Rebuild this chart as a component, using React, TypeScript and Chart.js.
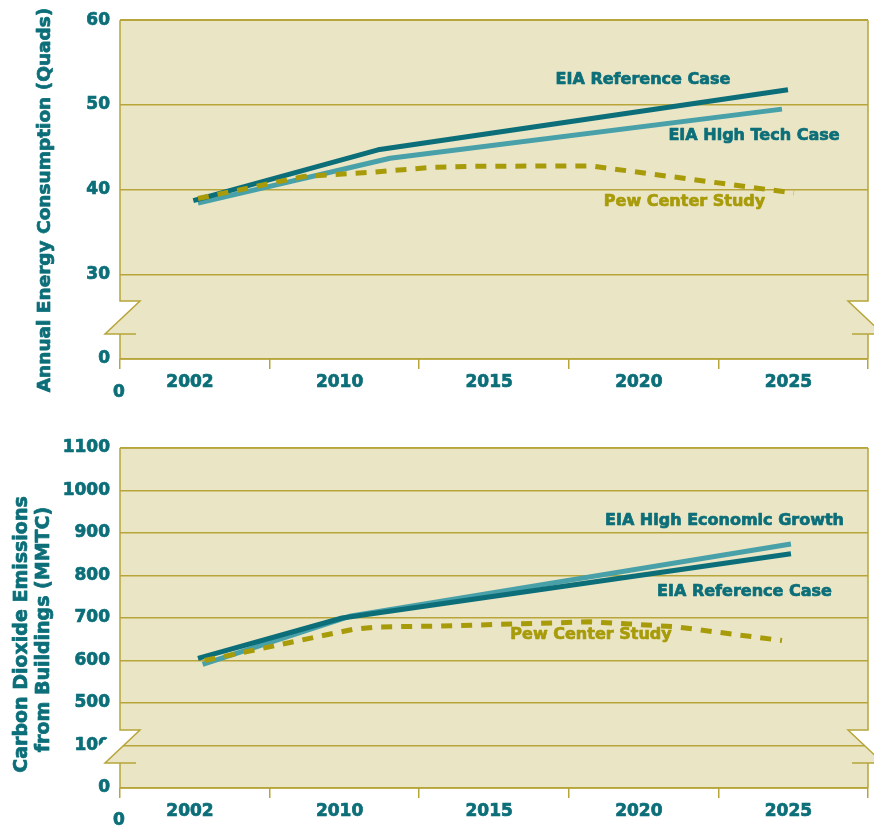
import React, { useEffect, useRef } from 'react';
import { Chart, registerables } from 'chart.js';

Chart.register(...registerables);

// ---------- style constants ----------
const FONT = "'DejaVu Sans', 'Liberation Sans', sans-serif";
const TEAL = '#0b6e78';
const LIGHT_TEAL = '#48a0a9';
const OLIVE = '#a89b0a';
const GRID = '#b7a53a';
const PLOT_BG = '#eae5c5';
const TEXT_STROKE = 0.7;

// ---------- shared x axis ----------
const xTickYears = [2002, 2010, 2015, 2020, 2025];

// ---------- panel 1: Annual Energy Consumption (Quads) ----------
const energyYMin = 20; // broken-axis slot that is labelled "0"
const energyYMax = 60;
const energyYStep = 10;
const energyBrokenLabels: Record<number, string> = { 20: '0' };
const energyRefYears = [2002.2, 2011.3, 2025.0];
const energyRefValues = [38.7, 44.7, 51.8];
const energyHighTechYears = [2002.45, 2011.7, 2024.8];
const energyHighTechValues = [38.4, 43.7, 49.5];
const energyPewYears = [2002.45, 2008.1, 2011.1, 2013.2, 2014.5, 2018.4, 2025.2];
const energyPewValues = [38.95, 41.55, 42.05, 42.65, 42.75, 42.8, 39.6];

// ---------- panel 2: Carbon Dioxide Emissions from Buildings (MMTC) ----------
const co2YMin = 300; // broken-axis slot that is labelled "0"
const co2YMax = 1100;
const co2YStep = 100;
const co2BrokenLabels: Record<number, string> = { 400: '100', 300: '0' };
const co2RefYears = [2002.45, 2010.1, 2025.1];
const co2RefValues = [605, 700, 851];
const co2HighGrowthYears = [2002.7, 2010.4, 2025.1];
const co2HighGrowthValues = [591, 705, 874];
const co2PewYears = [2002.8, 2010.5, 2011.3, 2013.4, 2018.4, 2019.7, 2021.3, 2022.6, 2024.8];
const co2PewValues = [600, 674, 679, 681, 691, 686, 679, 667, 647];

// year -> position on the slot axis (labels sit near the middle of each slot)
const SLOT_CENTER = 0.465;
function yearToPos(year: number): number {
  const ys = xTickYears;
  let i = 0;
  if (year >= ys[ys.length - 1]) i = ys.length - 2;
  else if (year > ys[0]) {
    while (year > ys[i + 1]) i++;
  }
  const t = (year - ys[i]) / (ys[i + 1] - ys[i]);
  return i + SLOT_CENTER + t;
}

function series(years: number[], values: number[]) {
  return years.map((y, i) => ({ x: yearToPos(y), y: values[i] }));
}

type TextItem = { text: string; x: number; y: number; color: string; size: number };
type TitleLine = { text: string; x: number; y: number; size: number };

function heavyText(ctx: CanvasRenderingContext2D, text: string, x: number, y: number, color: string) {
  ctx.fillStyle = color;
  ctx.strokeStyle = color;
  ctx.lineWidth = TEXT_STROKE;
  ctx.lineJoin = 'round';
  ctx.strokeText(text, x, y);
  ctx.fillText(text, x, y);
}

function framePlugin(titleLines: TitleLine[], labels: TextItem[], originDy: number) {
  return {
    id: 'frameAndBreaks',
    beforeDraw(chart: any) {
      const { ctx, chartArea: a } = chart;
      ctx.save();
      ctx.fillStyle = PLOT_BG;
      ctx.fillRect(a.left, a.top, a.right - a.left, a.bottom - a.top);
      ctx.restore();
    },
    afterDraw(chart: any) {
      const ctx = chart.ctx as CanvasRenderingContext2D;
      const { left: L, right: R, top: T, bottom: B } = chart.chartArea;
      const yt = B - 58;
      const yb = B - 25;
      const h = yb - yt;
      const dTop = 20;
      const dBot = 15;
      const band = 24;
      ctx.save();
      // white cut bands
      ctx.fillStyle = '#ffffff';
      ctx.beginPath();
      ctx.moveTo(L - 4, yt);
      ctx.lineTo(L + dTop, yt);
      ctx.lineTo(L - dBot, yb);
      ctx.lineTo(L - dBot - band, yb);
      ctx.closePath();
      ctx.fill();
      ctx.beginPath();
      ctx.moveTo(R + 4, yt);
      ctx.lineTo(R - dTop, yt);
      ctx.lineTo(R + dBot, yb);
      ctx.lineTo(R + dBot + band, yb);
      ctx.closePath();
      ctx.fill();
      // khaki fill beyond axis on the shifted side of the cut
      const yCross = yt + (h * dTop) / (dTop + dBot);
      ctx.fillStyle = PLOT_BG;
      ctx.beginPath();
      ctx.moveTo(L + 1, yCross);
      ctx.lineTo(L - dBot, yb);
      ctx.lineTo(L + 1, yb);
      ctx.closePath();
      ctx.fill();
      ctx.beginPath();
      ctx.moveTo(R - 1, yCross);
      ctx.lineTo(R + dBot, yb);
      ctx.lineTo(R - 1, yb);
      ctx.closePath();
      ctx.fill();
      // frame and break strokes
      ctx.strokeStyle = GRID;
      ctx.lineWidth = 1.5;
      ctx.beginPath();
      ctx.moveTo(L, T);
      ctx.lineTo(R, T);
      ctx.moveTo(L, B);
      ctx.lineTo(R, B);
      ctx.moveTo(L, T);
      ctx.lineTo(L, yt);
      ctx.lineTo(L + dTop, yt);
      ctx.lineTo(L - dBot, yb);
      ctx.lineTo(L + dTop - 4, yb);
      ctx.moveTo(L, yb);
      ctx.lineTo(L, B);
      ctx.moveTo(R, T);
      ctx.lineTo(R, yt);
      ctx.lineTo(R - dTop, yt);
      ctx.lineTo(R + dBot, yb);
      ctx.lineTo(R - dTop + 4, yb);
      ctx.moveTo(R, yb);
      ctx.lineTo(R, B);
      ctx.stroke();

      // origin "0" under the axis corner
      ctx.font = `bold 17px ${FONT}`;
      ctx.textAlign = 'center';
      ctx.textBaseline = 'middle';
      heavyText(ctx, '0', L - 1, B + originDy + 1, TEAL);

      // rotated axis title
      for (const t of titleLines) {
        ctx.save();
        ctx.translate(t.x, t.y);
        ctx.rotate(-Math.PI / 2);
        ctx.font = `bold ${t.size}px ${FONT}`;
        ctx.textAlign = 'center';
        ctx.textBaseline = 'alphabetic';
        heavyText(ctx, t.text, 0, 0, TEAL);
        ctx.restore();
      }

      // series labels
      for (const lb of labels) {
        ctx.font = `bold ${lb.size}px ${FONT}`;
        ctx.textAlign = 'center';
        ctx.textBaseline = 'middle';
        heavyText(ctx, lb.text, lb.x, lb.y, lb.color);
      }
      ctx.restore();
    },
  };
}

function lineDs(data: any[], color: string, dashed = false) {
  return {
    data,
    borderColor: color,
    backgroundColor: color,
    borderWidth: 5,
    pointRadius: 0,
    pointHoverRadius: 0,
    fill: false,
    tension: 0,
    borderCapStyle: 'butt',
    borderJoinStyle: 'round',
    borderDash: dashed ? [11, 9] : [],
  };
}

function buildChart(
  canvas: HTMLCanvasElement,
  datasets: any[],
  yMin: number,
  yMax: number,
  yStep: number,
  broken: Record<number, string>,
  padTop: number,
  xAxisHeight: number,
  plugin: any
) {
  return new Chart(canvas, {
    type: 'line',
    data: { datasets },
    options: {
      animation: false,
      responsive: false,
      maintainAspectRatio: false,
      devicePixelRatio: 1,
      layout: { padding: { left: 0, right: 6, top: padTop, bottom: 0 } },
      plugins: { legend: { display: false }, tooltip: { enabled: false } },
      events: [],
      scales: {
        x: {
          type: 'linear',
          min: 0,
          max: 5,
          afterBuildTicks: (scale: any) => {
            scale.ticks = [0, 1, 2, 3, 4, 5].map((value) => ({ value }));
          },
          afterFit: (scale: any) => {
            scale.height = xAxisHeight;
          },
          ticks: {
            autoSkip: false,
            maxRotation: 0,
            labelOffset: 70,
            padding: 3,
            color: TEAL,
            textStrokeColor: TEAL,
            textStrokeWidth: TEXT_STROKE,
            font: { family: FONT, size: 17, weight: 'bold' },
            callback: (v: any) => {
              const i = Math.round(Number(v));
              return i < xTickYears.length ? String(xTickYears[i]) : '';
            },
          },
          grid: {
            drawOnChartArea: false,
            drawTicks: true,
            tickLength: 10,
            color: GRID,
            lineWidth: 1.5,
          },
          border: { display: false },
        },
        y: {
          type: 'linear',
          min: yMin,
          max: yMax,
          afterFit: (scale: any) => {
            scale.width = 120;
          },
          ticks: {
            stepSize: yStep,
            padding: 10,
            color: TEAL,
            textStrokeColor: TEAL,
            textStrokeWidth: TEXT_STROKE,
            font: { family: FONT, size: 17, weight: 'bold' },
            callback: (v: any) => (broken[v] !== undefined ? broken[v] : String(v)),
          },
          grid: { color: GRID, lineWidth: 1.5, drawTicks: false },
          border: { display: false },
        },
      },
    } as any,
    plugins: [plugin],
  });
}

export default function App() {
  const topRef = useRef<HTMLCanvasElement>(null);
  const botRef = useRef<HTMLCanvasElement>(null);

  useEffect(() => {
    const c1 = buildChart(
      topRef.current!,
      [
        lineDs(series(energyPewYears, energyPewValues), OLIVE, true),
        lineDs(series(energyRefYears, energyRefValues), TEAL),
        lineDs(series(energyHighTechYears, energyHighTechValues), LIGHT_TEAL),
      ],
      energyYMin,
      energyYMax,
      energyYStep,
      energyBrokenLabels,
      19,
      55,
      framePlugin(
        [{ text: 'Annual Energy Consumption (Quads)', x: 50, y: 200, size: 18.5 }],
        [
          { text: 'EIA Reference Case', x: 643, y: 79.5, color: TEAL, size: 16 },
          { text: 'EIA High Tech Case', x: 754, y: 135.5, color: TEAL, size: 16 },
          { text: 'Pew Center Study', x: 684.5, y: 201.5, color: OLIVE, size: 16 },
        ],
        33
      )
    );
    const c2 = buildChart(
      botRef.current!,
      [
        lineDs(series(co2PewYears, co2PewValues), OLIVE, true),
        lineDs(series(co2RefYears, co2RefValues), TEAL),
        lineDs(series(co2HighGrowthYears, co2HighGrowthValues), LIGHT_TEAL),
      ],
      co2YMin,
      co2YMax,
      co2YStep,
      co2BrokenLabels,
      34,
      40,
      framePlugin(
        [
          { text: 'Carbon Dioxide Emissions', x: 27, y: 220.5, size: 19 },
          { text: 'from Buildings (MMTC)', x: 49, y: 215.5, size: 19 },
        ],
        [
          { text: 'EIA High Economic Growth', x: 724.5, y: 107, color: TEAL, size: 16 },
          { text: 'EIA Reference Case', x: 744.5, y: 178, color: TEAL, size: 16 },
          { text: 'Pew Center Study', x: 591, y: 221, color: OLIVE, size: 16 },
        ],
        32
      )
    );
    return () => {
      c1.destroy();
      c2.destroy();
    };
  }, []);

  return (
    <div style={{ position: 'absolute', left: 0, top: 0, width: 874, height: 828, background: '#ffffff' }}>
      <canvas ref={topRef} width={874} height={414} style={{ position: 'absolute', left: 0, top: 0, display: 'block' }} />
      <canvas ref={botRef} width={874} height={414} style={{ position: 'absolute', left: 0, top: 414, display: 'block' }} />
    </div>
  );
}
